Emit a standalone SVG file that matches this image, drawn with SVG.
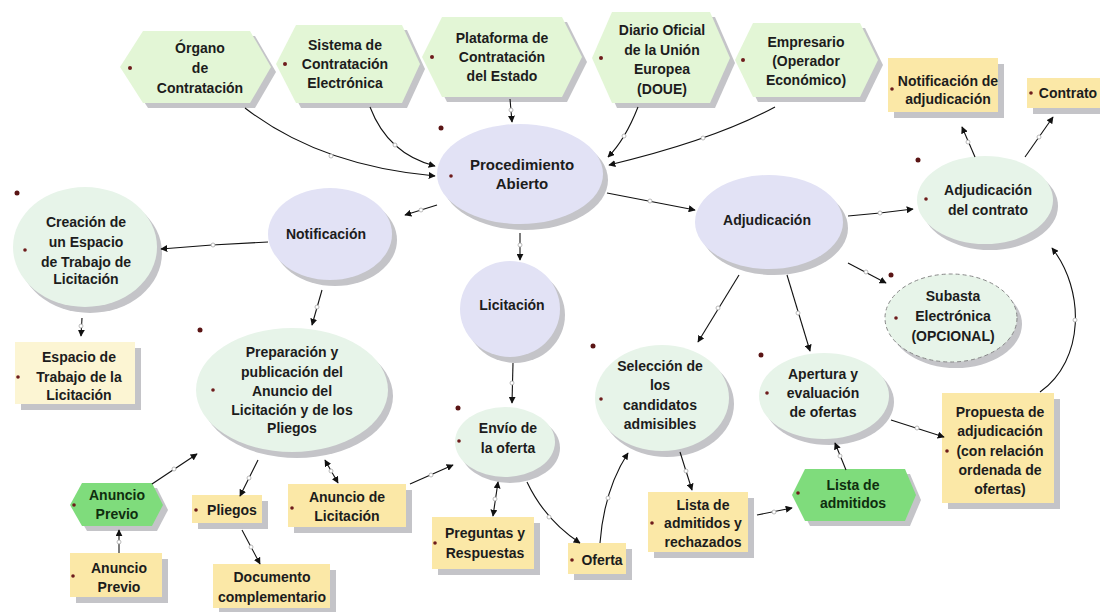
<svg xmlns="http://www.w3.org/2000/svg" width="1100" height="612" viewBox="0 0 1100 612">
<defs>
<marker id="ah" viewBox="0 0 10 10" refX="9" refY="5" markerWidth="7" markerHeight="7" markerUnits="userSpaceOnUse" orient="auto-start-reverse"><path d="M0,0 L10,5 L0,10 z" fill="#111"/></marker>
<style>
text{font-family:"Liberation Sans",Arial,sans-serif;font-weight:bold;font-size:14px;fill:#1c1c1c;text-anchor:middle}
.big{font-size:15px}
.sh{fill:#c4c4c8}
.hx{fill:#e3f6d6}
.hg{fill:#7fdc7c}
.yb{fill:#fbe8a7}
.yp{fill:#fcf5d3}
.lv{fill:#e2e2f5}
.mg{fill:#e7f4e9}
.dot{fill:#6e1c1c}
.con path{fill:none;stroke:#111;stroke-width:1.1;marker-end:url(#ah)}
.con path.dbl{marker-start:url(#ah)}
.con circle{fill:#fff;stroke:#aaa;stroke-width:0.8}
.gt{fill:#0f2e0f}
</style>
</defs>
<rect width="1100" height="612" fill="#fff"/>

<g id="organo">
<polygon class="sh" points="125,72 148,36 255,36 276,72 255,108 148,108"/>
<polygon class="hx" points="120,67 143,31 250,31 271,67 250,103 143,103"/>
<circle class="dot" cx="130" cy="68" r="2"/>
<text x="200" y="53">Órgano</text><text x="200" y="73">de</text><text x="200" y="93">Contratación</text>
</g>
<g id="sistema">
<polygon class="sh" points="281,69 301,30 407,30 425,69 407,108 301,108"/>
<polygon class="hx" points="276,64 296,25 402,25 420,64 402,103 296,103"/>
<circle class="dot" cx="285" cy="64" r="2"/>
<text x="345" y="50">Sistema de</text><text x="345" y="69">Contratación</text><text x="345" y="88">Electrónica</text>
</g>
<g id="plataforma">
<polygon class="sh" points="427,62 447,22 567,22 587,62 567,102 447,102"/>
<polygon class="hx" points="422,57 442,17 562,17 582,57 562,97 442,97"/>
<circle class="dot" cx="432" cy="57" r="2"/>
<text x="502" y="43">Plataforma de</text><text x="502" y="62">Contratación</text><text x="502" y="81">del Estado</text>
</g>
<g id="doue">
<polygon class="sh" points="597,63 617,17 715,17 735,63 715,108 617,108"/>
<polygon class="hx" points="592,58 612,12 710,12 730,58 710,103 612,103"/>
<circle class="dot" cx="601" cy="58" r="2"/>
<text x="662" y="35">Diario Oficial</text><text x="662" y="55">de la Unión</text><text x="662" y="74">Europea</text><text x="662" y="94">(DOUE)</text>
</g>
<g id="empresario">
<polygon class="sh" points="740,65 758,28 865,28 883,65 865,102 758,102"/>
<polygon class="hx" points="735,60 753,23 860,23 878,60 860,97 753,97"/>
<circle class="dot" cx="743" cy="60" r="2"/>
<text x="806" y="47">Empresario</text><text x="806" y="66">(Operador</text><text x="806" y="85">Económico)</text>
</g>

<g id="notif-adj">
<rect class="sh" x="894" y="64" width="110" height="54"/>
<rect class="yb" x="888" y="58" width="110" height="54"/>
<circle class="dot" cx="892" cy="89" r="1.8"/>
<text x="948" y="86">Notificación  de</text><text x="948" y="104">adjudicación</text>
</g>
<g id="contrato">
<rect class="sh" x="1033" y="84" width="70" height="30"/>
<rect class="yb" x="1027" y="78" width="73" height="30"/>
<circle class="dot" cx="1031" cy="93" r="1.8"/>
<text x="1068" y="98">Contrato</text>
</g>

<g id="procedimiento">
<ellipse class="sh" cx="525" cy="180" rx="83" ry="50"/>
<ellipse class="lv" cx="520" cy="174" rx="83" ry="50"/>
<circle class="dot" cx="451" cy="176" r="1.8"/>
<text class="big" x="522" y="170">Procedimiento</text><text class="big" x="522" y="189">Abierto</text>
</g>
<g id="notificacion">
<ellipse class="sh" cx="335" cy="240" rx="62" ry="46"/>
<ellipse class="lv" cx="330" cy="234" rx="62" ry="46"/>
<text x="326" y="239">Notificación</text>
</g>
<g id="licitacion">
<ellipse class="sh" cx="515" cy="315" rx="50" ry="48"/>
<ellipse class="lv" cx="510" cy="309" rx="50" ry="48"/>
<text x="512" y="310">Licitación</text>
</g>
<g id="adjudicacion">
<ellipse class="sh" cx="774" cy="228" rx="74" ry="47"/>
<ellipse class="lv" cx="769" cy="222" rx="74" ry="47"/>
<text x="767" y="225">Adjudicación</text>
</g>

<g id="creacion">
<ellipse class="sh" cx="90" cy="253" rx="72" ry="60"/>
<ellipse class="mg" cx="85" cy="247" rx="72" ry="60"/>
<circle class="dot" cx="25" cy="250" r="1.8"/>
<text x="86" y="227">Creación de</text><text x="86" y="247">un Espacio</text><text x="86" y="267">de Trabajo de</text><text x="86" y="284">Licitación</text>
</g>
<g id="espacio">
<rect class="sh" x="21" y="348" width="120" height="62"/>
<rect class="yp" x="15" y="342" width="120" height="62"/>
<circle class="dot" cx="18" cy="377" r="1.8"/>
<text x="79" y="362">Espacio de</text><text x="79" y="382">Trabajo de la</text><text x="79" y="400">Licitación</text>
</g>
<g id="preparacion">
<ellipse class="sh" cx="297" cy="396" rx="96" ry="62"/>
<ellipse class="mg" cx="292" cy="390" rx="96" ry="62"/>
<circle class="dot" cx="213" cy="390" r="1.8"/>
<text x="292" y="357">Preparación y</text><text x="292" y="377">publicación del</text><text x="292" y="396">Anuncio del</text><text x="292" y="415">Licitación y de los</text><text x="292" y="433">Pliegos</text>
</g>
<g id="envio">
<ellipse class="sh" cx="510" cy="448" rx="50" ry="35"/>
<ellipse class="mg" cx="505" cy="442" rx="50" ry="35"/>
<circle class="dot" cx="459" cy="441" r="1.8"/>
<text x="508" y="433">Envío de</text><text x="508" y="453">la oferta</text>
</g>
<g id="seleccion">
<ellipse class="sh" cx="667" cy="404" rx="67" ry="53"/>
<ellipse class="mg" cx="662" cy="398" rx="67" ry="53"/>
<circle class="dot" cx="601" cy="399" r="1.8"/>
<text x="660" y="371">Selección de</text><text x="660" y="390">los</text><text x="660" y="410">candidatos</text><text x="660" y="429">admisibles</text>
</g>
<g id="apertura">
<ellipse class="sh" cx="829" cy="402" rx="65" ry="43"/>
<ellipse class="mg" cx="824" cy="396" rx="65" ry="43"/>
<circle class="dot" cx="767" cy="393" r="1.8"/>
<text x="823" y="379">Apertura y</text><text x="823" y="398">evaluación</text><text x="823" y="417">de ofertas</text>
</g>
<g id="subasta">
<ellipse class="sh" cx="956" cy="324" rx="66" ry="44"/>
<ellipse class="mg" cx="951" cy="318" rx="66" ry="44" stroke="#888" stroke-width="1" stroke-dasharray="4,3"/>
<circle class="dot" cx="896" cy="318" r="1.8"/>
<text x="953" y="301">Subasta</text><text x="953" y="321">Electrónica</text><text x="953" y="341">(OPCIONAL)</text>
</g>
<g id="adj-contrato">
<ellipse class="sh" cx="990" cy="206" rx="68" ry="44"/>
<ellipse class="mg" cx="985" cy="200" rx="68" ry="44"/>
<circle class="dot" cx="926" cy="199" r="1.8"/>
<text x="988" y="195">Adjudicación</text><text x="988" y="215">del contrato</text>
</g>
<g id="propuesta">
<rect class="sh" x="948" y="399" width="112" height="110"/>
<rect class="yb" x="942" y="393" width="112" height="110"/>
<circle class="dot" cx="947" cy="451" r="1.8"/>
<text x="1000" y="417">Propuesta  de</text><text x="1000" y="436">adjudicación</text><text x="1000" y="456">(con relación</text><text x="1000" y="475">ordenada de</text><text x="1000" y="494">ofertas)</text>
</g>
<g id="lista-adm-rech">
<rect class="sh" x="654" y="498" width="100" height="60"/>
<rect class="yb" x="648" y="492" width="100" height="60"/>
<circle class="dot" cx="652" cy="523" r="1.8"/>
<text x="703" y="510">Lista de</text><text x="703" y="528">admitidos y</text><text x="703" y="547">rechazados</text>
</g>
<g id="lista-adm">
<polygon class="sh" points="797,500 810,474 910,474 921,500 910,526 810,526"/>
<polygon class="hg" points="792,495 805,469 905,469 916,495 905,521 805,521"/>
<circle class="dot" cx="798" cy="493" r="1.8"/>
<text class="gt" x="853" y="490">Lista de</text><text class="gt" x="853" y="508">admitidos</text>
</g>
<g id="oferta">
<rect class="sh" x="574" y="549" width="58" height="31"/>
<rect class="yb" x="568" y="543" width="58" height="31"/>
<circle class="dot" cx="572" cy="560" r="1.8"/>
<text x="602" y="565">Oferta</text>
</g>
<g id="preguntas">
<rect class="sh" x="438" y="523" width="102" height="52"/>
<rect class="yb" x="432" y="517" width="102" height="52"/>
<circle class="dot" cx="435" cy="543" r="1.8"/>
<text x="485" y="538">Preguntas y</text><text x="485" y="558">Respuestas</text>
</g>
<g id="anuncio-lic">
<rect class="sh" x="294" y="490" width="118" height="43"/>
<rect class="yb" x="288" y="484" width="118" height="43"/>
<circle class="dot" cx="292" cy="508" r="1.8"/>
<text x="347" y="502">Anuncio de</text><text x="347" y="521">Licitación</text>
</g>
<g id="pliegos">
<rect class="sh" x="198" y="501" width="70" height="28"/>
<rect class="yb" x="192" y="495" width="70" height="28"/>
<circle class="dot" cx="196" cy="510" r="1.8"/>
<text x="232" y="515">Pliegos</text>
</g>
<g id="documento">
<rect class="sh" x="219" y="570" width="117" height="44"/>
<rect class="yb" x="213" y="564" width="117" height="44"/>
<text x="272" y="582">Documento</text><text x="272" y="602">complementario</text>
</g>
<g id="anuncio-previo-hex">
<polygon class="sh" points="75,510 87,488 157,488 168,510 157,531 87,531"/>
<polygon class="hg" points="70,505 82,483 152,483 163,505 152,526 82,526"/>
<circle class="dot" cx="74" cy="505" r="1.8"/>
<text class="gt" x="117" y="500">Anuncio</text><text class="gt" x="117" y="519">Previo</text>
</g>
<g id="anuncio-previo">
<rect class="sh" x="76" y="559" width="92" height="44"/>
<rect class="yb" x="70" y="553" width="92" height="44"/>
<circle class="dot" cx="73" cy="576" r="1.8"/>
<text x="119" y="573">Anuncio</text><text x="119" y="592">Previo</text>
</g>

<g id="marks" fill="#5a1414">
<circle cx="441" cy="128" r="2.5"/><circle cx="17" cy="193" r="2.5"/><circle cx="200" cy="330" r="2.5"/><circle cx="458" cy="408" r="2.5"/><circle cx="593" cy="346" r="2.5"/><circle cx="761" cy="355" r="2.5"/><circle cx="891" cy="275" r="2.5"/><circle cx="918" cy="160" r="2.5"/>
</g>

<g id="connectors" class="con">
<path d="M245,108 Q320,166 435,176"/><circle cx="331" cy="156" r="2"/>
<path d="M370,107 Q388,154 435,166"/><circle cx="395" cy="145" r="2"/>
<path d="M510,99 L512,122"/><circle cx="511" cy="110" r="2"/>
<path d="M638,107 Q625,140 608,157"/><circle cx="624" cy="136" r="2"/>
<path d="M775,107 Q714,140 609,165"/><circle cx="703" cy="138" r="2"/>
<path d="M437,205 L405,215"/><circle cx="421" cy="210" r="2"/>
<path d="M520,233 L520,260"/><circle cx="520" cy="245" r="2"/>
<path d="M607,193 L695,210"/><circle cx="650" cy="201" r="2"/>
<path d="M268,242 L212,245 L161,249"/><circle cx="213" cy="245" r="2"/>
<path d="M322,290 L312,325"/><circle cx="317" cy="307" r="2"/>
<path d="M82,318 L81,336"/><circle cx="81" cy="326" r="2"/>
<path d="M513,363 L512,403"/><circle cx="512" cy="383" r="2"/>
<path d="M848,216 L880,213 L913,209"/><circle cx="880" cy="213" r="2"/>
<path d="M848,263 L886,283"/><circle cx="866" cy="272" r="2"/>
<path d="M739,275 L698,342"/><circle cx="718" cy="308" r="2"/>
<path d="M787,275 L810,351"/><circle cx="798" cy="313" r="2"/>
<path d="M975,157 L962,127"/><circle cx="968" cy="142" r="2"/>
<path d="M1025,157 L1053,117"/><circle cx="1039" cy="137" r="2"/>
<path d="M1040,392 C1085,360 1085,290 1052,248"/><circle cx="1075" cy="320" r="2"/>
<path d="M891,420 L944,437"/><circle cx="917" cy="428" r="2"/>
<path d="M846,470 L835,443"/><circle cx="840" cy="456" r="2"/>
<path d="M680,452 L692,490"/><circle cx="686" cy="471" r="2"/>
<path d="M757,515 L792,508"/><circle cx="774" cy="512" r="2"/>
<path d="M600,543 Q604,490 628,453"/><circle cx="608" cy="498" r="2"/>
<path d="M527,482 Q545,520 580,543"/><circle cx="549" cy="517" r="2"/>
<path class="dbl" d="M498,482 L493,516"/><circle cx="495" cy="499" r="2"/>
<path d="M410,484 L453,465"/><circle cx="431" cy="475" r="2"/>
<path d="M152,484 L197,454"/><circle cx="174" cy="469" r="2"/>
<path d="M258,460 L240,496"/><circle cx="249" cy="478" r="2"/>
<path class="dbl" d="M325,460 L338,483"/><circle cx="331" cy="471" r="2"/>
<path d="M242,530 L260,564"/><circle cx="251" cy="547" r="2"/>
<path d="M119,553 L119,530"/><circle cx="119" cy="542" r="2"/>
</g>
</svg>
